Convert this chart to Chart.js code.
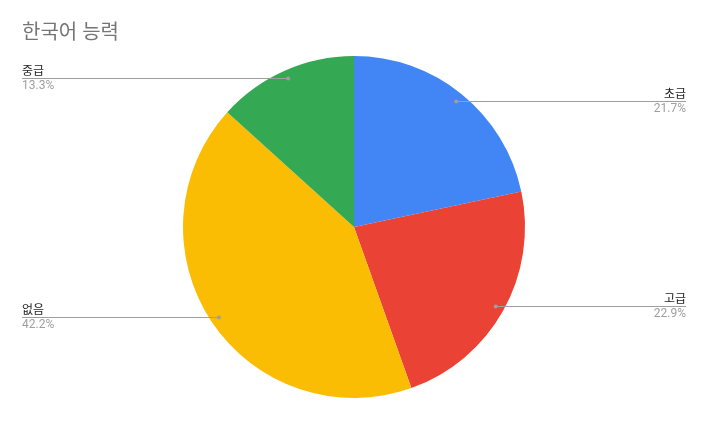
<!DOCTYPE html>
<html>
<head>
<meta charset="utf-8">
<script src="https://cdn.jsdelivr.net/npm/chart.js@4"></script>
<style>
  html, body { margin: 0; padding: 0; background: #fff; }
  #wrap { width: 708px; height: 421px; position: relative; }
</style>
</head>
<body>
<div id="wrap"><canvas id="chart" width="708" height="421"></canvas></div>
<script>
const chartTitle = '한국어 능력';
const categories = ['초급', '고급', '없음', '중급'];
const shares = [21.7, 22.9, 42.2, 13.3];
const sliceColors = ['#4285F4', '#EA4335', '#FBBC04', '#34A853'];

const FONT = "Roboto, 'Noto Sans CJK KR', Arial, sans-serif";

// leader lines + labels, drawn from each arc's own geometry
const leaderLabels = {
    id: 'leaderLabels',
    afterDraw(chart) {
        const ctx = chart.ctx;
        const meta = chart.getDatasetMeta(0);
        const left = 22;
        const right = chart.width - 22;

        ctx.save();
        ctx.fillStyle = '#757575';
        ctx.font = '20px ' + FONT;
        ctx.textAlign = 'left';
        ctx.textBaseline = 'alphabetic';
        ctx.fillText(chartTitle, left, 39);

        meta.data.forEach((arc, i) => {
            const mid = (arc.startAngle + arc.endAngle) / 2;
            const r = arc.outerRadius * 0.95;
            const px = arc.x + Math.cos(mid) * r;
            const py = Math.round(arc.y + Math.sin(mid) * r) + 0.5;
            const onRight = Math.cos(mid) >= 0;
            const endX = onRight ? right : left;

            ctx.strokeStyle = '#9e9e9e';
            ctx.lineWidth = 1;
            ctx.beginPath();
            ctx.moveTo(px, py);
            ctx.lineTo(endX, py);
            ctx.stroke();

            ctx.fillStyle = '#9e9e9e';
            ctx.beginPath();
            ctx.arc(px, py, 2, 0, Math.PI * 2);
            ctx.fill();

            ctx.textAlign = onRight ? 'right' : 'left';
            ctx.font = '12px ' + FONT;
            ctx.fillStyle = '#222222';
            ctx.textBaseline = 'bottom';
            ctx.fillText(categories[i], endX, py - 1);
            ctx.fillStyle = '#9e9e9e';
            ctx.textBaseline = 'top';
            ctx.fillText(shares[i].toFixed(1) + '%', endX, py + 1.5);
        });
        ctx.restore();
    }
};

const ctx = document.querySelector('#chart').getContext('2d');
new Chart(ctx, {
    type: 'pie',
    data: {
        labels: categories,
        datasets: [{
            data: shares,
            backgroundColor: sliceColors,
            borderWidth: 0,
        }],
    },
    options: {
        responsive: false,
        animation: false,
        layout: {
            padding: { top: 56, bottom: 23, left: 0, right: 0 },
        },
        plugins: {
            legend: { display: false },
            tooltip: { enabled: false },
        },
    },
    plugins: [leaderLabels],
});
</script>
</body>
</html>
